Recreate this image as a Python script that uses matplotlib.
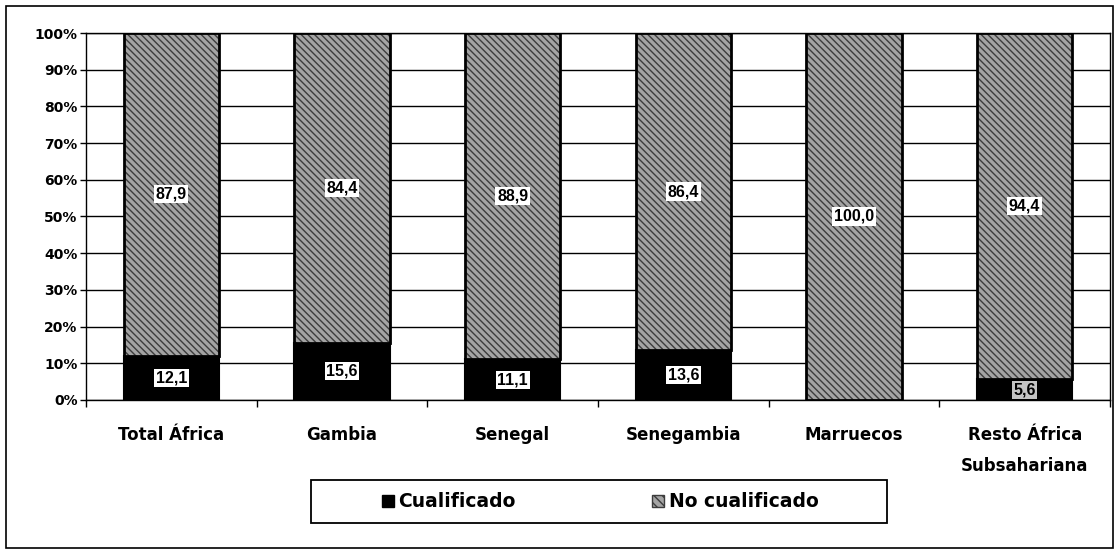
import matplotlib.pyplot as plt
import matplotlib.patches as mpatches
import numpy as np

plt.rcParams['font.family'] = ['DejaVu Sans']

categorias = ['Total África', 'Gambia', 'Senegal', 'Senegambia', 'Marruecos',
              'Resto África\nSubsahariana']
cualificado = [12.1, 15.6, 11.1, 13.6, 0.0, 5.6]
no_cualificado = [87.9, 84.4, 88.9, 86.4, 100.0, 94.4]

fig = plt.figure(figsize=(11.15, 5.52), dpi=100)
ax = fig.add_axes([0.0771, 0.2754, 0.9184, 0.6648])

x = np.arange(len(categorias))
w = 0.56
gris = '#a4a4a4'

# capa inferior
ax.bar(x, cualificado, w, color='black', edgecolor='black', lw=1.5, zorder=3)
# capa superior con trama
ax.bar(x, no_cualificado, w, bottom=cualificado, color=gris, edgecolor='#3c3c3c',
       hatch='\\\\\\\\\\', lw=0, zorder=3)
ax.bar(x, no_cualificado, w, bottom=cualificado, fill=False, edgecolor='black',
       lw=2, zorder=4)

for i in range(len(x)):
    fondo = 'white' if cualificado[i] > 8 else '#c4c4c4'
    if cualificado[i] > 0:
        ax.text(x[i], cualificado[i] / 2, f'{cualificado[i]:.1f}'.replace('.', ','),
                ha='center', va='center', fontsize=11.5, fontweight='bold',
                family='Liberation Sans', zorder=5,
                bbox=dict(boxstyle='square,pad=0.1', fc=fondo, ec='none'))
    ax.text(x[i], cualificado[i] + no_cualificado[i] / 2,
            f'{no_cualificado[i]:.1f}'.replace('.', ','),
            ha='center', va='center', fontsize=11.5, fontweight='bold',
            family='Liberation Sans', zorder=5,
            bbox=dict(boxstyle='square,pad=0.1', fc='white', ec='none'))

ax.set_xlim(-0.5, len(x) - 0.5)
ax.set_ylim(0, 100)
ax.set_yticks(np.arange(0, 101, 10))
ax.set_yticklabels([f'{v}%' for v in range(0, 101, 10)], fontsize=10,
                   fontweight='bold')
ax.yaxis.grid(True, color='black', lw=1, zorder=1)
ax.set_xticks(x)
ax.set_xticklabels(categorias, fontsize=12, fontweight='bold', linespacing=1.9)
ax.tick_params(axis='x', length=0, pad=19)
ax.set_xticks(np.arange(-0.5, len(x), 1), minor=True)
ax.tick_params(axis='x', which='minor', length=5, width=1, direction='out')
ax.tick_params(axis='y', length=4, width=1, direction='out', pad=2)
for s in ax.spines.values():
    s.set_color('black')
    s.set_linewidth(1)

# leyenda
h1 = mpatches.Patch(facecolor='black', edgecolor='black')
h2 = mpatches.Patch(facecolor=gris, edgecolor='#3c3c3c', hatch='\\\\\\\\')
leg = fig.legend([h1, h2], ['Cualificado', 'No cualificado'], ncol=2,
                 loc='center', bbox_to_anchor=(600 / 1115, 0.0906), frameon=False,
                 prop=dict(size=13.5, weight='bold'), handlelength=0.65,
                 handleheight=0.65, handletextpad=0.22, columnspacing=7.3,
                 borderpad=0, borderaxespad=0)
fig.patches.append(mpatches.Rectangle((311 / 1115, 1 - 523 / 552), 576 / 1115,
                                      43 / 552, transform=fig.transFigure,
                                      fill=False, ec='black', lw=1.3))

# marco exterior
fig.patches.append(mpatches.Rectangle((0.005, 0.008), 0.993, 0.982,
                                      transform=fig.transFigure, fill=False,
                                      ec='black', lw=1.2))

fig.savefig('out.png', dpi=100)
